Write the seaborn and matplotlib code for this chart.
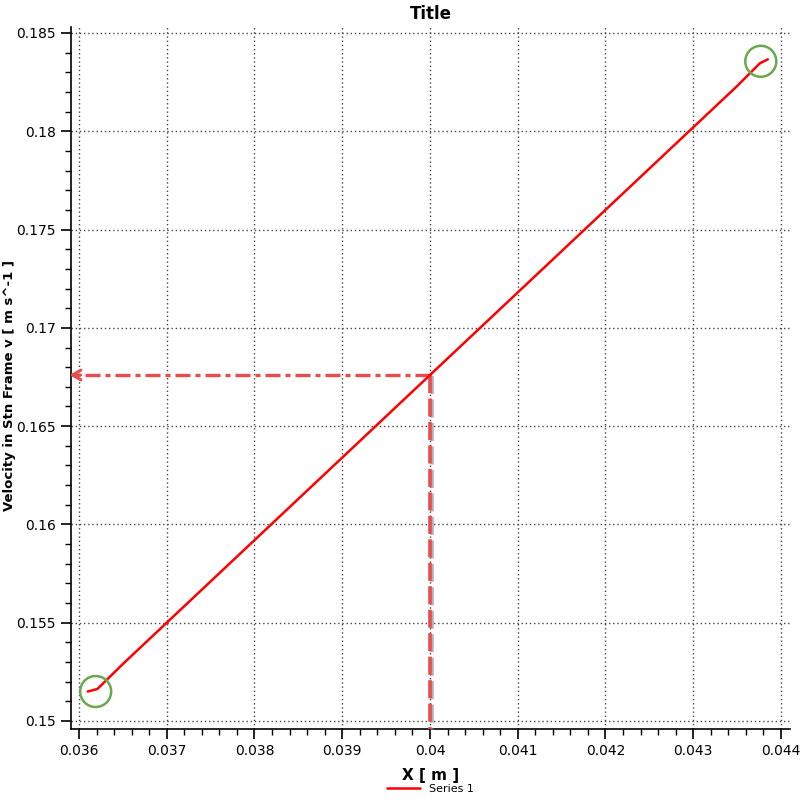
import matplotlib
matplotlib.use("Agg")
import matplotlib.pyplot as plt
import matplotlib.patheffects as pe
from matplotlib.patches import Ellipse
from matplotlib.ticker import FixedLocator, MultipleLocator
import seaborn as sns
import pandas as pd

# values
x_pos = [0.03610, 0.03621, 0.0365, 0.0370, 0.0375, 0.0380, 0.0385, 0.0390, 0.0395,
         0.0400, 0.0405, 0.0410, 0.0415, 0.0420, 0.0425, 0.0430, 0.0435, 0.04376, 0.04385]
velocity = [0.1515, 0.15163, 0.1529, 0.1550, 0.1571, 0.1592, 0.1613, 0.1634, 0.1655,
            0.1676, 0.1697, 0.1718, 0.1739, 0.1760, 0.1781, 0.1802, 0.1823, 0.18346, 0.18366]
series_name = "Series 1"

x_ticks = [0.036, 0.037, 0.038, 0.039, 0.040, 0.041, 0.042, 0.043, 0.044]
x_ticklabels = ["0.036", "0.037", "0.038", "0.039", "0.04", "0.041", "0.042", "0.043", "0.044"]
y_ticks = [0.150, 0.155, 0.160, 0.165, 0.170, 0.175, 0.180, 0.185]
y_ticklabels = ["0.15", "0.155", "0.16", "0.165", "0.17", "0.175", "0.18", "0.185"]

probe_x = 0.040
probe_y = 0.1676

data = pd.DataFrame({"x": x_pos, "v": velocity})

sns.set_style("white")
plt.rcParams['font.family'] = ['DejaVu Sans']
plt.rcParams['text.color'] = 'black'
plt.rcParams['axes.labelcolor'] = 'black'

fig = plt.figure(figsize=(8, 8), dpi=100)
ax = fig.add_axes([71 / 800, 1 - 729 / 800, 719 / 800, 702 / 800])

ax.set_xlim(0.035909, 0.044103)
ax.set_ylim(0.149593, 0.185305)

# dotted grid
ax.xaxis.set_major_locator(FixedLocator(x_ticks))
ax.yaxis.set_major_locator(FixedLocator(y_ticks))
ax.set_xticklabels(x_ticklabels)
ax.set_yticklabels(y_ticklabels)
ax.xaxis.set_minor_locator(MultipleLocator(0.0002))
ax.yaxis.set_minor_locator(MultipleLocator(0.001))
ax.grid(True, which="major", color="#444444", linestyle=(0, (1, 2)), linewidth=1.0)

sns.lineplot(data=data, x="x", y="v", sort=False, color="red", linewidth=1.8,
             label=series_name, ax=ax, zorder=5)

for s in ["top", "right"]:
    ax.spines[s].set_visible(False)
for s in ["left", "bottom"]:
    ax.spines[s].set_color("black")
    ax.spines[s].set_linewidth(1.2)

ax.tick_params(which="major", direction="out", length=7, width=1.2, colors="black",
               labelsize=10, pad=4, bottom=True, left=True)
ax.tick_params(which="minor", direction="out", length=4, width=1.0, colors="black",
               bottom=True, left=True)

ax.set_xlabel("X [ m ]", fontsize=11, fontweight="bold", color="black")
ax.xaxis.set_label_coords(0.5, -0.055)
ax.set_ylabel("Velocity in Stn Frame v [ m s^-1 ]", fontsize=9.5, fontweight="bold", color="black")
ax.yaxis.set_label_coords(-0.076, 0.49)
ax.set_title("Title", fontsize=12, fontweight="bold", pad=6, color="black")

# probe lines
ax.plot([probe_x, probe_x], [probe_y, 0.149593], color="#e84c4c", linewidth=2.6,
        linestyle=(0, (5, 1.5)), clip_on=False, zorder=4,
        path_effects=[pe.SimpleLineShadow(offset=(1.5, -0.5), shadow_color="gray", alpha=0.6),
                      pe.Normal()])
ax.plot([probe_x, 0.03598], [probe_y, probe_y], color="#e84c4c", linewidth=2.4,
        linestyle=(0, (4.5, 1.5, 1.5, 1.5)), clip_on=False, zorder=4)
ax.annotate("", xy=(0.035860, probe_y), xytext=(0.03605, probe_y),
            arrowprops=dict(arrowstyle="->,head_length=0.6,head_width=0.35",
                            color="#e84c4c", lw=2.2), annotation_clip=False, zorder=4)

# highlight circles at the ends
for cx, cy in [(x_pos[0] + 0.00009, velocity[0]), (x_pos[-1] - 0.00008, velocity[-1] - 0.0001)]:
    ax.add_patch(Ellipse((cx, cy), width=31 / 87.75 * 0.001, height=31 / 98.3 * 0.005,
                         fill=False, edgecolor="#6aa84f", linewidth=1.8, zorder=6, clip_on=False))

leg = ax.legend(loc="upper center", bbox_to_anchor=(0.5, -0.072), frameon=False,
                fontsize=8, handlelength=3, borderaxespad=0)
for t in leg.get_texts():
    t.set_color("black")

fig.savefig("out.png", dpi=100)
